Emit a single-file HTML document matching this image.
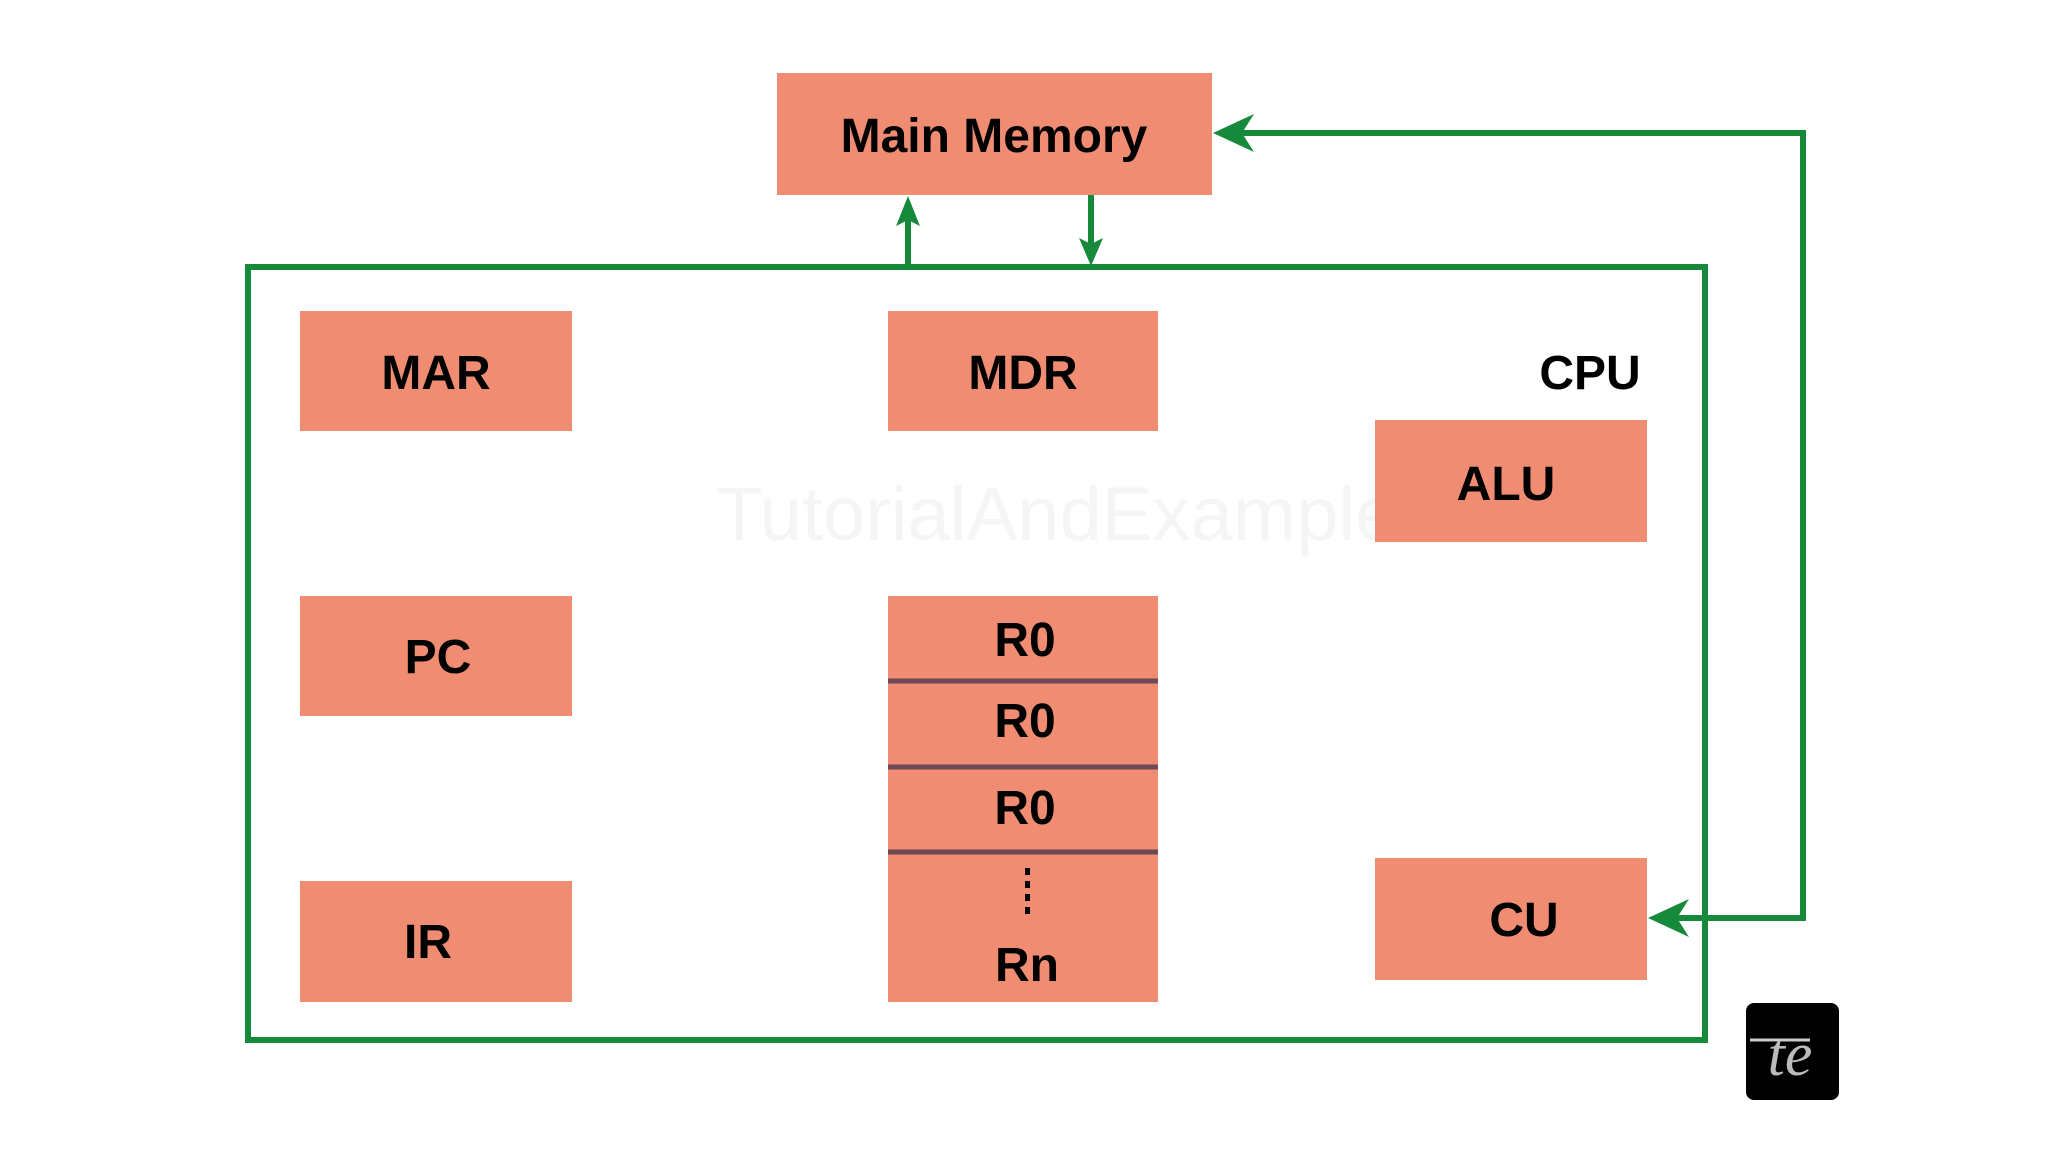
<!DOCTYPE html>
<html><head><meta charset="utf-8"><style>html,body{margin:0;padding:0;background:#fff;}svg{display:block}</style></head>
<body>
<svg width="2048" height="1152" viewBox="0 0 2048 1152" xmlns="http://www.w3.org/2000/svg" font-family="Liberation Sans, Arial, sans-serif" font-weight="bold">
<text x="716" y="540" font-size="76" fill="#f5f5f5" font-weight="normal">TutorialAndExample</text>
<g fill="#F08C72">
<rect x="777" y="73" width="435" height="122"/>
<rect x="300" y="311" width="272" height="120"/>
<rect x="888" y="311" width="270" height="120"/>
<rect x="1375" y="420" width="272" height="122"/>
<rect x="300" y="596" width="272" height="120"/>
<rect x="888" y="596" width="270" height="406"/>
<rect x="300" y="881" width="272" height="121"/>
<rect x="1375" y="858" width="272" height="122"/>
</g>
<g stroke="#6b4a55" stroke-width="5">
<line x1="888" y1="681" x2="1158" y2="681"/>
<line x1="888" y1="767" x2="1158" y2="767"/>
<line x1="888" y1="852" x2="1158" y2="852"/>
</g>
<g fill="none" stroke="#17893a" stroke-width="6">
<rect x="248" y="267" width="1457" height="773"/>
<line x1="908" y1="267" x2="908" y2="215"/>
<line x1="1091" y1="195" x2="1091" y2="248"/>
<polyline points="1235,133 1803,133 1803,918 1670,918"/>
</g>
<g fill="#17893a">
<polygon points="908,196 896,226 908,220 920,226"/>
<polygon points="1091,266 1079,238 1091,244 1103,238"/>
<polygon points="1213,133 1254,114 1242,133 1254,152"/>
<polygon points="1648,918 1689,899 1677,918 1689,937"/>
</g>
<g fill="#000" font-size="48" text-anchor="middle">
<text x="994" y="152">Main Memory</text>
<text x="436" y="389">MAR</text>
<text x="1023" y="389">MDR</text>
<text x="1590" y="389">CPU</text>
<text x="1506" y="500">ALU</text>
<text x="438" y="673">PC</text>
<text x="1025" y="656">R0</text>
<text x="1025" y="737">R0</text>
<text x="1025" y="824">R0</text>
<text x="1027" y="981">Rn</text>
<text x="428" y="958">IR</text>
<text x="1524" y="936">CU</text>
</g>
<g fill="#000"><rect x="1025" y="868" width="5" height="7"/><rect x="1025" y="881" width="5" height="7"/><rect x="1025" y="894" width="5" height="7"/><rect x="1025" y="907" width="5" height="7"/></g>
<rect x="1746" y="1003" width="93" height="97" rx="8" fill="#000"/>
<text x="1790" y="1075" font-size="62" fill="#bbb" font-style="italic" font-weight="normal" font-family="Liberation Serif, serif" text-anchor="middle">te</text>
<line x1="1750" y1="1040" x2="1810" y2="1040" stroke="#ccc" stroke-width="3"/>
</svg>
</body></html>
